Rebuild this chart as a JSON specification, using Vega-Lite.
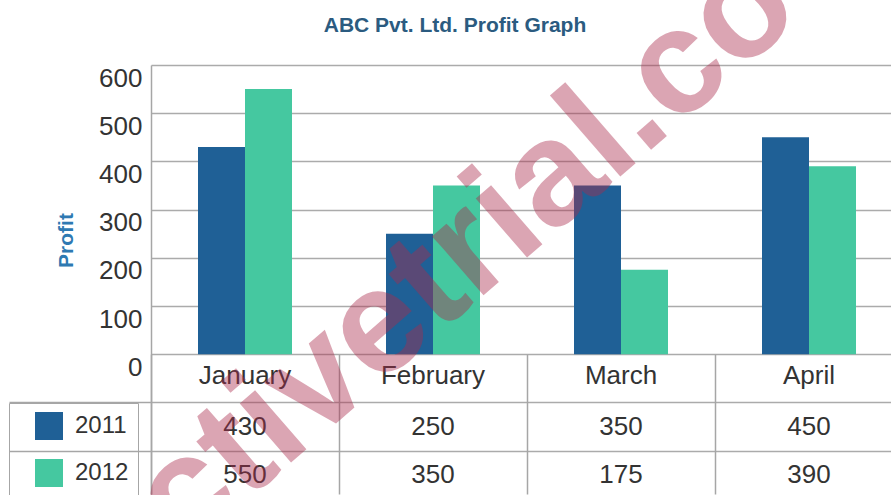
{
  "$schema": "https://vega.github.io/schema/vega-lite/v6.json",
  "width": 740,
  "height": 429,
  "autosize": {"type": "none"},
  "padding": {"left": 151, "top": 65, "right": 0, "bottom": 1},
  "background": "white",
  "title": {
    "text": "ABC Pvt. Ltd. Profit Graph",
    "font": "Liberation Sans",
    "fontSize": 21,
    "fontWeight": "bold",
    "color": "#2b5b80",
    "anchor": "middle",
    "frame": "group",
    "offset": 0,
    "dx": -66,
    "dy": 109
  },
  "config": {"view": {"stroke": null}, "font": "Liberation Sans"},
  "data": {
    "values": [
      {"month": "January", "year": "2011", "profit": 430},
      {"month": "January", "year": "2012", "profit": 550},
      {"month": "February", "year": "2011", "profit": 250},
      {"month": "February", "year": "2012", "profit": 350},
      {"month": "March", "year": "2011", "profit": 350},
      {"month": "March", "year": "2012", "profit": 175},
      {"month": "April", "year": "2011", "profit": 450},
      {"month": "April", "year": "2012", "profit": 390}
    ]
  },
  "layer": [
    {
      "mark": {"type": "bar"},
      "encoding": {
        "x": {
          "field": "month",
          "type": "nominal",
          "sort": ["January", "February", "March", "April"],
          "scale": {"range": [0, 752], "paddingInner": 0, "paddingOuter": 0},
          "axis": {
            "orient": "bottom",
            "title": null,
            "labels": false,
            "domain": false,
            "bandPosition": 0,
            "ticks": true,
            "tickSize": -140,
            "tickColor": "#a6a6a6",
            "tickWidth": 1.5,
            "grid": false
          }
        },
        "xOffset": {
          "field": "year",
          "type": "nominal",
          "scale": {"paddingInner": 0, "paddingOuter": 1.41}
        },
        "y": {
          "field": "profit",
          "type": "quantitative",
          "stack": null,
          "scale": {"domain": [-290, 600], "nice": false},
          "axis": {
            "title": "Profit",
            "titleFont": "Liberation Sans",
            "titleFontSize": 21,
            "titleFontWeight": "bold",
            "titleColor": "#2e79b2",
            "titlePadding": -68,
            "titleY": 175,
            "values": [600, 500, 400, 300, 200, 100, 0, -100, -200],
            "labelExpr": "datum.value >= 0 ? datum.label : ''",
            "labelFont": "Liberation Sans",
            "labelFontSize": 26,
            "labelColor": "#333333",
            "labelPadding": -133,
            "labelOffset": 13,
            "ticks": true,
            "tickSize": 142,
            "tickWidth": 1.5,
            "tickColor": {"condition": {"test": "datum.value < 0", "value": "#a6a6a6"}, "value": "transparent"},
            "domain": true,
            "domainColor": "#a6a6a6",
            "domainWidth": 1.5,
            "grid": true,
            "gridColor": "#ababab",
            "gridWidth": 1.5
          }
        },
        "y2": {"datum": 0},
        "color": {
          "field": "year",
          "type": "nominal",
          "scale": {"domain": ["2011", "2012"], "range": ["#1f6096", "#45c8a0"]},
          "legend": {
            "orient": "none",
            "legendX": -142,
            "legendY": 338,
            "title": null,
            "direction": "vertical",
            "symbolType": "square",
            "symbolSize": 784,
            "symbolStrokeWidth": 0,
            "symbolOpacity": 1,
            "symbolOffset": 17,
            "labelOffset": 12,
            "labelFont": "Liberation Sans",
            "labelFontSize": 24,
            "labelColor": "#333333",
            "labelExpr": "datum.label + '  '",
            "rowPadding": 19,
            "padding": 9,
            "strokeColor": "#a6a6a6"
          }
        }
      }
    },
    {
      "transform": [{"filter": "datum.year == '2011'"}],
      "mark": {"type": "text", "fontSize": 26, "font": "Liberation Sans", "color": "#333333", "baseline": "middle"},
      "encoding": {
        "x": {"field": "month", "type": "nominal", "sort": ["January", "February", "March", "April"]},
        "y": {"datum": -45},
        "text": {"field": "month"}
      }
    },
    {
      "transform": [{"filter": "datum.year == '2011'"}],
      "mark": {"type": "text", "fontSize": 26, "font": "Liberation Sans", "color": "#333333", "baseline": "middle"},
      "encoding": {
        "x": {"field": "month", "type": "nominal", "sort": ["January", "February", "March", "April"]},
        "y": {"datum": -150},
        "text": {"field": "profit"}
      }
    },
    {
      "transform": [{"filter": "datum.year == '2012'"}],
      "mark": {"type": "text", "fontSize": 26, "font": "Liberation Sans", "color": "#333333", "baseline": "middle"},
      "encoding": {
        "x": {"field": "month", "type": "nominal", "sort": ["January", "February", "March", "April"]},
        "y": {"datum": -250},
        "text": {"field": "profit"}
      }
    },
    {
      "data": {"values": [{"label": "activetrial.co"}]},
      "mark": {"type": "text", "fontSize": 148, "font": "Liberation Sans", "fontWeight": "bold", "color": "#ab2b4c", "opacity": 0.42, "angle": -41, "baseline": "middle", "align": "center", "dx": 2},
      "encoding": {
        "x": {"datum": "February", "type": "nominal"},
        "y": {"datum": 152},
        "text": {"field": "label"}
      }
    }
  ]
}
